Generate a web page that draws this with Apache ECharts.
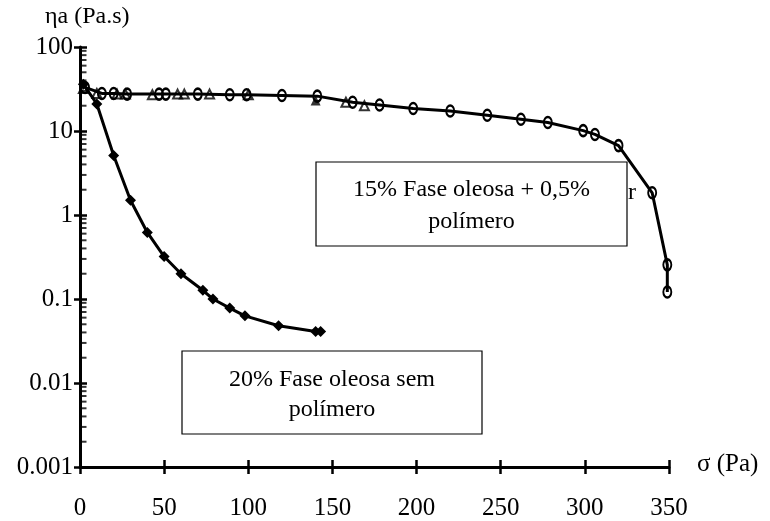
<!DOCTYPE html>
<html>
<head>
<meta charset="utf-8">
<script src="https://cdn.jsdelivr.net/npm/echarts@6/dist/echarts.min.js"></script>
<style>
  html, body { margin: 0; padding: 0; background: #fff; }
  #chart { width: 770px; height: 521px; }
</style>
</head>
<body>
<div id="chart"></div>
<script>
// σ (Pa) vs ηa (Pa.s)
const semPolimero = [
  [2, 36], [10, 21], [20, 5.1], [30, 1.5], [40, 0.62], [50, 0.32], [60, 0.2],
  [73, 0.127], [79, 0.1], [89, 0.078], [98, 0.063], [118, 0.048], [140, 0.041], [143, 0.041]
];
const comPolimeroCirc = [
  [3, 33], [13, 28], [20, 28], [28, 27.5], [47, 27.5], [51, 27.5], [70, 27.5],
  [89, 27], [99, 27], [120, 26.5], [141, 26], [162, 22], [178, 20.4], [198, 18.5],
  [220, 17.3], [242, 15.4], [262, 13.8], [278, 12.6], [299, 10.1], [306, 9.1],
  [320, 6.7], [340, 1.84], [349, 0.255], [349, 0.121]
];
const comPolimeroTri = [
  [2, 32], [10, 28], [22, 27.5], [27, 27.5], [43, 27], [58, 27.5], [62, 27.5],
  [77, 27.5], [100, 27], [158, 22], [169, 20]
];
const comPolimeroTriCheio = [[140, 23]];

const xTicks = [0, 50, 100, 150, 200, 250, 300, 350];
const yTickLabels = ['0.001', '0.01', '0.1', '1', '10', '100'];
const decades = [0.001, 0.01, 0.1, 1, 10];

// minor ticks of the log axis, drawn as tiny rects on x = 0
const minorTicks = [];
decades.forEach(d => {
  for (let k = 2; k <= 9; k++) minorTicks.push([0, +(d * k).toPrecision(3)]);
});

const serif = '"Liberation Serif", "DejaVu Serif", serif';
const chart = echarts.init(document.getElementById('chart'));

const axisX = {
  type: 'value', min: 0, max: 350, interval: 50, position: 'bottom',
  splitLine: { show: false }
};
const axisY = {
  type: 'log', logBase: 10, min: 0.001, max: 100, position: 'left',
  splitLine: { show: false }, minorTick: { show: false }
};
const hollow = 'rgba(255,255,255,0)';

chart.setOption({
  animation: false,
  backgroundColor: '#fff',
  grid: { left: 80, right: 101, top: 47, bottom: 53 },
  xAxis: [
    Object.assign({}, axisX, {
      axisLine: { lineStyle: { color: '#000', width: 3 } },
      axisTick: { length: 7, lineStyle: { color: '#000', width: 2.5 } },
      axisLabel: {
        color: '#000', fontFamily: serif, fontSize: 25, margin: 29,
        formatter: v => String(v)
      }
    }),
    Object.assign({}, axisX, {
      axisLine: { show: false },
      axisTick: { inside: true, length: 7, lineStyle: { color: '#000', width: 2.5 } },
      axisLabel: { show: false }
    })
  ],
  yAxis: [
    Object.assign({}, axisY, {
      axisLine: { lineStyle: { color: '#000', width: 3 } },
      axisTick: { length: 6, lineStyle: { color: '#000', width: 2.5 } },
      axisLabel: {
        color: '#000', fontFamily: serif, fontSize: 25, margin: 7,
        formatter: (v, i) => yTickLabels[i]
      }
    }),
    Object.assign({}, axisY, {
      axisLine: { show: false },
      axisTick: { inside: true, length: 7, lineStyle: { color: '#000', width: 2.5 } },
      axisLabel: { show: false }
    })
  ],
  series: [
    {
      name: 'minor', type: 'scatter', data: minorTicks, silent: true, clip: false,
      symbol: 'rect', symbolSize: [6, 2], symbolOffset: [3.5, 0],
      itemStyle: { color: '#000' }, z: 6
    },
    {
      name: '20% Fase oleosa sem polímero', type: 'line', data: semPolimero,
      symbol: 'diamond', symbolSize: 11,
      lineStyle: { color: '#000', width: 3 },
      itemStyle: { color: '#000' }, z: 3
    },
    {
      name: '15% Fase oleosa + 0,5% polímero', type: 'line', data: comPolimeroCirc,
      symbol: 'circle', symbolSize: [8, 11],
      lineStyle: { color: '#000', width: 3 },
      itemStyle: { color: hollow, borderColor: '#000', borderWidth: 2.2 }, z: 4
    },
    {
      name: 'tri', type: 'scatter', data: comPolimeroTri,
      symbol: 'triangle', symbolSize: 9,
      itemStyle: { color: hollow, borderColor: '#000', borderWidth: 2 }, z: 4
    },
    {
      name: 'triCheio', type: 'scatter', data: comPolimeroTriCheio,
      symbol: 'triangle', symbolSize: 10,
      itemStyle: { color: '#000' }, z: 4
    }
  ],
  graphic: [
    { type: 'text', left: 45, top: 5, z: 10,
      style: { text: 'ηa (Pa.s)', font: '24px ' + serif, fill: '#000' } },
    { type: 'text', left: 697, top: 452, z: 10,
      style: { text: 'σ (Pa)', font: '25px ' + serif, fill: '#000' } },
    { type: 'rect', z: 10, shape: { x: 316, y: 162, width: 311, height: 84 },
      style: { fill: '#fff', stroke: '#000', lineWidth: 1.2 } },
    { type: 'text', z: 11, x: 471.5, y: 206,
      style: { text: '15% Fase oleosa + 0,5%\npolímero', font: '24px ' + serif,
               fill: '#000', align: 'center', verticalAlign: 'middle', lineHeight: 32 } },
    { type: 'text', left: 628, top: 181, z: 10,
      style: { text: 'r', font: '24px ' + serif, fill: '#000' } },
    { type: 'rect', z: 10, shape: { x: 182, y: 351, width: 300, height: 83 },
      style: { fill: '#fff', stroke: '#000', lineWidth: 1.2 } },
    { type: 'text', z: 11, x: 332, y: 395,
      style: { text: '20% Fase oleosa sem\npolímero', font: '24px ' + serif,
               fill: '#000', align: 'center', verticalAlign: 'middle', lineHeight: 30 } }
  ]
});
</script>
</body>
</html>
